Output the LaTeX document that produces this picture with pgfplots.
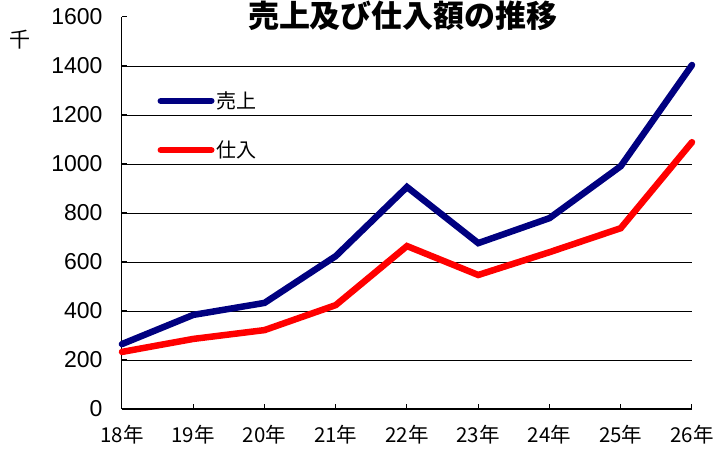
\documentclass[border=0pt]{standalone}
\usepackage{fontspec}
\setmainfont{Liberation Sans}
\newfontfamily\cjk{Noto Sans CJK JP}
\usepackage{pgfplots}
\pgfplotsset{compat=1.18}
\definecolor{navyc}{RGB}{0,0,128}
\definecolor{redc}{RGB}{255,0,0}
\begin{document}
\begin{tikzpicture}
\begin{axis}[name=ax, at={(0,0)}, anchor=south west,
  scale only axis, width=570pt, height=392pt,
  xmin=0, xmax=8, ymin=0, ymax=1600,
  enlarge x limits=false,
  axis x line=bottom, axis y line=left,
  axis line style={-, black, line width=1pt},
  xtick={0,...,8},
  xticklabels={18年,19年,20年,21年,22年,23年,24年,25年,26年},
  ytick={0,200,...,1400}, extra y ticks={1600},
  extra y tick style={grid=none},
  ymajorgrids, grid style={black, line width=0.8pt},
  tick align=inside, major tick length=5pt,
  tick style={black, line width=1pt},
  xticklabel style={font=\cjk\fontsize{20.5}{20.5}\selectfont, yshift=-13pt},
  yticklabel style={font=\fontsize{23}{23}\selectfont, xshift=-16pt},
  /pgf/number format/assume math mode=true,
  /pgf/number format/1000 sep={},
  clip=false,
  legend style={at={(0.062,0.815)}, anchor=north west, draw=none, fill=none,
    inner sep=0pt, font=\cjk\fontsize{20}{20}\selectfont,
    row sep=27pt, cells={anchor=west}},
  legend image code/.code={\draw[#1] (0pt,0pt) -- (50.5pt,0pt);},
]
\addplot[navyc, line width=6.5pt, line cap=round] coordinates {
(0,265) (1,384) (2,433) (3,624) (4,906) (5,677) (6,779) (7,991) (8,1404)};
\addlegendentry{売上}
\addplot[redc, line width=6.5pt, line cap=round] coordinates {
(0,233) (1,286) (2,322) (3,424) (4,665) (5,547) (6,640) (7,738) (8,1089)};
\addlegendentry{仕入}
\end{axis}
\node[font=\cjk\bfseries\fontsize{31}{31}\selectfont] at ([shift={(281pt,393pt)}]ax.south west) {売上及び仕入額の推移};
\node[font=\cjk\fontsize{21}{21}\selectfont] at ([shift={(-102pt,369pt)}]ax.south west) {千};
\pgfresetboundingbox
\path[use as bounding box] ([shift={(-122pt,-45pt)}]ax.south west) rectangle ([shift={(591pt,409pt)}]ax.south west);
\end{tikzpicture}
\end{document}
